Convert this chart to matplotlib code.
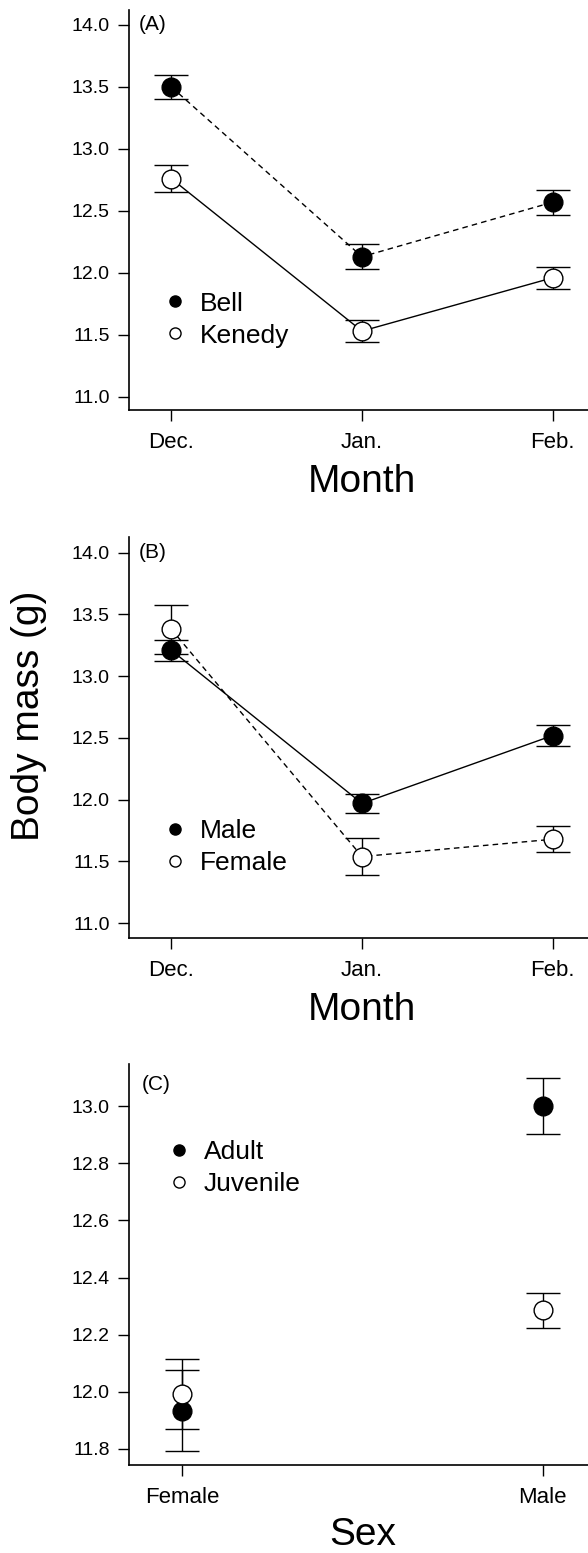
import matplotlib
matplotlib.use("Agg")
import matplotlib.pyplot as plt
import matplotlib.transforms as mtransforms
from matplotlib.lines import Line2D

plt.rcParams["font.family"] = ["Liberation Sans", "DejaVu Sans"]

# panel A: site x month
MONTHS = ["Dec.", "Jan.", "Feb."]
BELL = [13.50, 12.13, 12.57]
BELL_SE = [0.10, 0.10, 0.10]
KENEDY = [12.76, 11.53, 11.96]
KENEDY_SE = [0.11, 0.09, 0.09]

# panel B: sex x month
MALE = [13.21, 11.97, 12.52]
MALE_SE = [0.085, 0.08, 0.083]
FEMALE = [13.38, 11.54, 11.68]
FEMALE_SE = [0.20, 0.15, 0.104]

# panel C: age x sex
SEXES = ["Female", "Male"]
ADULT = [11.934, 13.00]
ADULT_SE = [0.142, 0.097]
JUVENILE = [11.992, 12.285]
JUVENILE_SE = [0.122, 0.06]

INK = "black"
W, H = 588, 1553
fig = plt.figure(figsize=(W / 100, H / 100), dpi=100)


def px_axes(left, top, right, bottom):
    return fig.add_axes([left / W, 1 - bottom / H, (right - left) / W, (bottom - top) / H])


def style(ax):
    for s in ("top", "right"):
        ax.spines[s].set_visible(False)
    for s in ("left", "bottom"):
        ax.spines[s].set_linewidth(1.2)
    ax.tick_params(axis="y", direction="out", length=8, width=1.0, labelsize=14, pad=6)
    ax.tick_params(axis="x", direction="out", length=8, width=1.0, labelsize=16, pad=8)


def series(ax, x, y, se, filled, ls, z):
    ax.errorbar(x, y, yerr=se, fmt="none", ecolor=INK, elinewidth=1.0,
                capsize=12.2, capthick=1.0, zorder=z)
    kw = dict(color=INK, lw=1.0, marker="o", ms=13.5, mfc=INK if filled else "white",
              mec=INK, mew=1.0, zorder=z + 0.5)
    if ls == "--":
        kw["dashes"] = (4, 3)
    ax.plot(x, y, ls=ls, **kw)


def legend(ax, labels, x, y):
    hs = [Line2D([], [], ls="none", marker="o", ms=8, mfc=INK, mec=INK, mew=1.0),
          Line2D([], [], ls="none", marker="o", ms=8, mfc="white", mec=INK, mew=1.0)]
    ax.legend(hs, labels, loc="center left", bbox_to_anchor=(x, y), frameon=False,
              fontsize=19, handlelength=0.9, handletextpad=0.5, labelspacing=0.3,
              borderpad=0, borderaxespad=0, numpoints=1)


def panel_tag(ax, s, x, yv):
    tr = mtransforms.blended_transform_factory(ax.transAxes, ax.transData)
    ax.text(x, yv, s, transform=tr, ha="left", va="center", fontsize=15)


# (A)
axA = px_axes(129.4, 10, 594.6, 410)
xm = range(len(MONTHS))
series(axA, xm, KENEDY, KENEDY_SE, False, "-", 2)
series(axA, xm, BELL, BELL_SE, True, "--", 4)
axA.set_xlim(-0.22, 2.22)
axA.set_ylim(10.893, 14.121)
axA.set_yticks([11.0, 11.5, 12.0, 12.5, 13.0, 13.5, 14.0])
axA.set_yticklabels([f"{v:.1f}" for v in axA.get_yticks()])
axA.set_xticks(list(xm))
axA.set_xticklabels(MONTHS)
style(axA)
axA.set_xlabel("Month", fontsize=28)
axA.xaxis.set_label_coords(0.5, -0.135)
legend(axA, ["Bell", "Kenedy"], 0.072, 0.226)
panel_tag(axA, "(A)", 0.02, 14.0)

# (B)
axB = px_axes(129.4, 537.3, 594.6, 937.7)
series(axB, xm, FEMALE, FEMALE_SE, False, "--", 2)
series(axB, xm, MALE, MALE_SE, True, "-", 4)
axB.set_xlim(-0.22, 2.22)
axB.set_ylim(10.883, 14.125)
axB.set_yticks([11.0, 11.5, 12.0, 12.5, 13.0, 13.5, 14.0])
axB.set_yticklabels([f"{v:.1f}" for v in axB.get_yticks()])
axB.set_xticks(list(xm))
axB.set_xticklabels(MONTHS)
style(axB)
axB.set_xlabel("Month", fontsize=28)
axB.xaxis.set_label_coords(0.5, -0.135)
legend(axB, ["Male", "Female"], 0.072, 0.227)
panel_tag(axB, "(B)", 0.02, 14.0)

# (C)
axC = px_axes(129.4, 1064, 595.8, 1465)
xs = range(len(SEXES))
series(axC, xs, ADULT, ADULT_SE, True, "none", 2)
series(axC, xs, JUVENILE, JUVENILE_SE, False, "none", 4)
axC.set_xlim(-0.147, 1.147)
axC.set_ylim(11.744, 13.147)
axC.set_yticks([11.8, 12.0, 12.2, 12.4, 12.6, 12.8, 13.0])
axC.set_yticklabels([f"{v:.1f}" for v in axC.get_yticks()])
axC.set_xticks(list(xs))
axC.set_xticklabels(SEXES)
style(axC)
axC.set_xlabel("Sex", fontsize=28)
axC.xaxis.set_label_coords(0.5, -0.13)
legend(axC, ["Adult", "Juvenile"], 0.081, 0.741)
panel_tag(axC, "(C)", 0.026, 13.077)

fig.text(29 / W, 1 - 716 / H, "Body mass (g)", rotation=90, ha="center", va="center",
         fontsize=28)

fig.savefig("out.png", dpi=100, facecolor="white")
